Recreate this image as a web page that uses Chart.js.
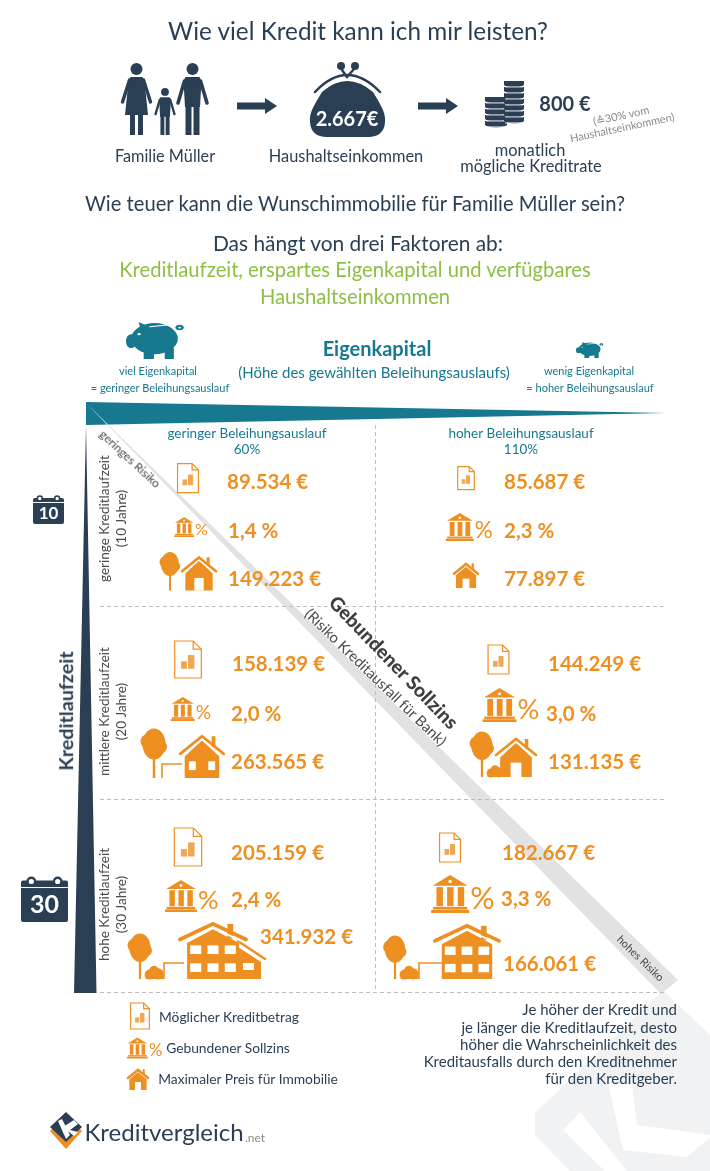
<!DOCTYPE html>
<html lang="de">
<head>
<meta charset="utf-8">
<title>Wie viel Kredit kann ich mir leisten?</title>
<script src="https://cdn.jsdelivr.net/npm/chart.js@4"></script>
<style>
  html, body { margin: 0; background: #fff; }
  #page { position: relative; width: 710px; height: 1171px; overflow: hidden; font-family: Lato, sans-serif; }
  #page canvas { position: absolute; left: 0; top: 0; }
  .txt { position: absolute; white-space: nowrap; line-height: 1; }
</style>
</head>
<body>
<div id="page"><canvas id="chart" width="710" height="1171"></canvas></div>
<script>
// Data
const ltvValues = [60, 110];
const ltvLabels = ['geringer Beleihungsauslauf', 'hoher Beleihungsauslauf'];
const yearValues = [10, 20, 30];
const laufzeitLabels = ['geringe Kreditlaufzeit', 'mittlere Kreditlaufzeit', 'hohe Kreditlaufzeit'];
const kreditLow = [89534, 158139, 205159];
const kreditHigh = [85687, 144249, 182667];
const zinsLow = [1.4, 2.0, 2.4];
const zinsHigh = [2.3, 3.0, 3.3];
const preisLow = [149223, 263565, 341932];
const preisHigh = [77897, 131135, 166061];

const navy = '#2a3f54';
const teal = '#17798f';
const orange = '#ee8f22';
const green = '#8dbf43';
const grey = '#4a4a4a';

// Offsets from each data point: [text dx, text dy, icon dx, icon dy, icon height]
const kreditLayout = [
  [[-20, -27.5, -59, -31.5, 29], [-17, -27.5, -55, -31.5, 23]],
  [[-15, -38.5, -59, -43, 37], [27, -38.5, -22.5, -43, 29]],
  [[-16, -42.5, -59, -48.5, 38], [-19, -42.5, -71, -48, 29]]
];
const zinsLayout = [
  [[-19, 21.5, -58.5, 17.5, 20], [-17, 21.5, -55, 17.5, 28]],
  [[-16, 11.5, -59, 6.5, 24], [25, 11.5, -14, 2.5, 34]],
  [[-16, 4.5, -59, 0.5, 32], [-20, 3.5, -62.5, -1.5, 38]]
];
const preisLayout = [
  [[-19, 69.5, -87, 81, 'a'], [-17, 69.5, -69, 78.5, 'b']],
  [[-16, 59.5, -107, 75.5, 'c'], [27, 59.5, -53, 74.5, 'd']],
  [[13, 41.5, -120, 83.5, 'e'], [-18, 68.5, -138, 83.5, 'f']]
];

// text, center x, center y, size, colour, extra
const pageText = [
  ['Wie viel Kredit kann ich mir leisten?', 358, 31, 24.3, navy],
  ['Familie Müller', 165, 156, 16.3, navy],
  ['Haushaltseinkommen', 346, 156, 16.4, navy],
  ['2.667€', 347, 118, 20, '#fff', { weight: 700 }],
  ['800 €', 565, 103, 20, navy, { weight: 700 }],
  ['(≙30% vom', 621, 115, 11, '#8a8a8a', { rotate: -12 }],
  ['Haushaltseinkommen)', 622, 127, 11, '#8a8a8a', { rotate: -12 }],
  ['monatlich', 530, 150, 16.4, navy],
  ['mögliche Kreditrate', 531, 166, 16.4, navy],
  ['Wie teuer kann die Wunschimmobilie für Familie Müller sein?', 355, 203, 20.2, navy],
  ['Das hängt von drei Faktoren ab:', 358, 243, 20.9, navy],
  ['Kreditlaufzeit, erspartes Eigenkapital und verfügbares', 355, 269, 20.2, green],
  ['Haushaltseinkommen', 355, 296, 20.2, green],
  ['Eigenkapital', 377, 348, 20, teal, { weight: 700 }],
  ['(Höhe des gewählten Beleihungsauslaufs)', 374, 372, 15, teal],
  ['viel Eigenkapital', 158, 370, 11, teal],
  ['= geringer Beleihungsauslauf', 160, 387, 11, teal],
  ['wenig Eigenkapital', 589, 370, 11, teal],
  ['= hoher Beleihungsauslauf', 590, 387, 11, teal],
  ['geringes Risiko', 130, 459, 12, grey, { rotate: 43 }],
  ['Gebundener Sollzins', 394, 662, 19.3, '#3f3f3f', { weight: 900, rotate: 46 }],
  ['(Risiko Kreditausfall für Bank)', 376, 677, 14.8, grey, { rotate: 44 }],
  ['hohes Risiko', 641, 958, 11, grey, { rotate: 44 }],
  ['Kreditlaufzeit', 66, 711, 19.7, navy, { weight: 700, rotate: -90 }],
  ['Möglicher Kreditbetrag', 229, 1017, 13.8, navy],
  ['Gebundener Sollzins', 228, 1048, 13.8, navy],
  ['Maximaler Preis für Immobilie', 248, 1079, 13.8, navy],
  ['Je höher der Kredit und', 677, 1009, 15, navy, { right: true }],
  ['je länger die Kreditlaufzeit, desto', 677, 1027, 15, navy, { right: true }],
  ['höher die Wahrscheinlichkeit des', 677, 1044, 15, navy, { right: true }],
  ['Kreditausfalls durch den Kreditnehmer', 677, 1061, 15, navy, { right: true }],
  ['für den Kreditgeber.', 677, 1078, 15, navy, { right: true }],
  ['Kreditvergleich', 164, 1132, 24, navy],
  ['.net', 255, 1138, 12, '#8a8a8a']
];

const page = document.getElementById('page');
pageText.forEach(([text, x, y, size, color, extra = {}]) => {
  const el = document.createElement('div');
  el.className = 'txt';
  el.textContent = text;
  el.style.left = x + 'px';
  el.style.top = y + 'px';
  el.style.fontSize = size + 'px';
  el.style.color = color;
  el.style.fontWeight = extra.weight || 400;
  const tx = extra.right ? '-100%' : '-50%';
  el.style.transform = `translate(${tx}, -50%) rotate(${extra.rotate || 0}deg)`;
  page.appendChild(el);
});

// Drawing helpers
function poly(c, pts, fill) {
  c.beginPath();
  pts.forEach((p, i) => i ? c.lineTo(p[0], p[1]) : c.moveTo(p[0], p[1]));
  c.closePath();
  c.fillStyle = fill;
  c.fill();
}

function line(c, pts, color, width) {
  c.beginPath();
  pts.forEach((p, i) => i ? c.lineTo(p[0], p[1]) : c.moveTo(p[0], p[1]));
  c.strokeStyle = color;
  c.lineWidth = width;
  c.lineCap = 'round';
  c.stroke();
}

function dot(c, x, y, r, fill) {
  c.beginPath();
  c.arc(x, y, r, 0, Math.PI * 2);
  c.fillStyle = fill;
  c.fill();
}

function docIcon(c, cx, cy, h) {
  const w = h * 0.72, x = cx - w / 2, y = cy - h / 2, f = h * 0.22;
  c.fillStyle = '#fff';
  c.strokeStyle = orange;
  c.lineWidth = 1.2;
  c.beginPath();
  c.moveTo(x, y);
  c.lineTo(x + w - f, y);
  c.lineTo(x + w, y + f);
  c.lineTo(x + w, y + h);
  c.lineTo(x, y + h);
  c.closePath();
  c.fill();
  c.stroke();
  c.beginPath();
  c.moveTo(x + w - f, y);
  c.lineTo(x + w - f, y + f);
  c.lineTo(x + w, y + f);
  c.stroke();
  c.fillStyle = '#efa655';
  c.fillRect(cx - w * 0.26, cy + h * 0.05, w * 0.22, h * 0.2);
  c.fillRect(cx, cy - h * 0.12, w * 0.24, h * 0.37);
}

function bankIcon(c, cx, cy, h) {
  const b = h * 1.0, x = cx - b * 0.72, top = cy - h / 2;
  const mid = x + b / 2;
  poly(c, [[mid, top], [x + b * 0.96, top + h * 0.28], [x + b * 0.04, top + h * 0.28]], orange);
  dot(c, mid, top + h * 0.17, h * 0.045, '#fff');
  for (let i = 0; i < 3; i++) {
    c.fillStyle = orange;
    c.fillRect(x + b * (0.14 + i * 0.28), top + h * 0.32, b * 0.17, h * 0.5);
  }
  c.fillRect(x + b * 0.05, top + h * 0.84, b * 0.9, h * 0.07);
  c.fillRect(x, top + h * 0.92, b, h * 0.08);
  c.font = `400 ${h * 0.8}px Lato`;
  c.textAlign = 'left';
  c.textBaseline = 'middle';
  c.fillText('%', x + b + 1, cy + h * 0.14);
}

function tree(c, cx, bottom, h) {
  const crown = bottom - h * 0.68;
  c.fillStyle = orange;
  c.fillRect(cx - h * 0.025, crown, h * 0.05, h * 0.68);
  c.beginPath();
  c.ellipse(cx, crown, h * 0.23, h * 0.31, 0, 0, Math.PI * 2);
  c.fill();
  dot(c, cx - h * 0.12, crown - h * 0.05, h * 0.15, orange);
  dot(c, cx + h * 0.13, crown + h * 0.06, h * 0.13, orange);
}

function bush(c, cx, bottom, w) {
  dot(c, cx - w * 0.22, bottom - w * 0.22, w * 0.25, orange);
  dot(c, cx + w * 0.2, bottom - w * 0.26, w * 0.28, orange);
  dot(c, cx, bottom - w * 0.42, w * 0.24, orange);
  c.fillStyle = orange;
  c.fillRect(cx - w * 0.42, bottom - w * 0.2, w * 0.9, w * 0.2);
}

function garage(c, x, bottom, w, h) {
  c.strokeStyle = orange;
  c.lineWidth = 1.6;
  c.lineCap = 'butt';
  c.beginPath();
  c.moveTo(x, bottom);
  c.lineTo(x, bottom - h);
  c.lineTo(x + w, bottom - h);
  c.stroke();
}

// rows = rows of windows, 0 gives a plain house with a door
function house(c, cx, bottom, w, h, rows, cols) {
  const bw = w * 0.72, roofY = bottom - h * (rows === 2 ? 0.68 : 0.55);
  const rw = Math.max(2, h * 0.05);
  c.fillStyle = orange;
  c.fillRect(cx + w * 0.2, bottom - h * 0.95, w * 0.08, h * 0.25);
  poly(c, [[cx, bottom - h * 0.86], [cx + bw / 2, roofY + h * 0.06], [cx + bw / 2, bottom], [cx - bw / 2, bottom], [cx - bw / 2, roofY + h * 0.06]], orange);
  poly(c, [[cx, bottom - h * 0.9], [cx + bw * 0.6, roofY + h * 0.03], [cx + bw * 0.6, roofY + h * 0.03 + 2], [cx, bottom - h * 0.9 + 2], [cx - bw * 0.6, roofY + h * 0.03 + 2], [cx - bw * 0.6, roofY + h * 0.03]], '#fff');
  line(c, [[cx - w / 2 + rw, roofY], [cx, bottom - h + rw], [cx + w / 2 - rw, roofY]], orange, rw * 1.3);
  c.fillStyle = '#fff';
  if (rows === 0) {
    c.fillRect(cx - bw * 0.17, bottom - h * 0.36, bw * 0.34, h * 0.36);
  } else if (rows === 1) {
    c.fillRect(cx - bw * 0.38, bottom - h * 0.38, bw * 0.2, h * 0.2);
    c.fillRect(cx + bw * 0.18, bottom - h * 0.38, bw * 0.2, h * 0.2);
  } else {
    for (let r = 0; r < 2; r++) {
      for (let i = 0; i < cols; i++) {
        const gx = bw / cols;
        c.fillRect(cx - bw / 2 + gx * (i + 0.18), bottom - h * (0.58 - r * 0.31), gx * 0.64, h * 0.15);
      }
    }
  }
}

// House groups, dx and bottom are measured from the point given
function preisIcon(c, kind, x, bottom) {
  if (kind === 'a') {
    tree(c, x + 10, bottom, 39);
    house(c, x + 39, bottom, 38, 35, 0);
  } else if (kind === 'b') {
    house(c, x + 14, bottom, 28, 26, 0);
  } else if (kind === 'c') {
    tree(c, x + 14, bottom, 50);
    garage(c, x + 22, bottom, 20, 14);
    house(c, x + 62, bottom, 48, 44, 1);
  } else if (kind === 'd') {
    tree(c, x + 14, bottom, 46);
    house(c, x + 48, bottom, 44, 40, 0);
    bush(c, x + 27, bottom, 18);
  } else if (kind === 'e') {
    tree(c, x + 13, bottom, 46);
    bush(c, x + 27, bottom, 20);
    garage(c, x + 37, bottom, 20, 16);
    poly(c, [[x + 111, bottom - 32], [x + 134, bottom - 17], [x + 134, bottom], [x + 111, bottom]], orange);
    line(c, [[x + 111, bottom - 38], [x + 138, bottom - 20]], orange, 2.5);
    house(c, x + 86, bottom, 72, 58, 2, 3);
    c.fillStyle = '#fff';
    c.fillRect(x + 116, bottom - 16, 11, 7);
  } else {
    tree(c, x + 12, bottom, 44);
    bush(c, x + 26, bottom, 20);
    garage(c, x + 36, bottom, 23, 16);
    house(c, x + 84, bottom, 70, 56, 2, 3);
  }
}

function person(c, cx, top, h, dress) {
  const s = h / 72;
  dot(c, cx, top + 6 * s, 6 * s, navy);
  c.fillStyle = navy;
  if (dress) {
    poly(c, [[cx - 6 * s, top + 14 * s], [cx + 6 * s, top + 14 * s], [cx + 8 * s, top + 18 * s], [cx + 11.5 * s, top + 52 * s], [cx - 11.5 * s, top + 52 * s], [cx - 8 * s, top + 18 * s]], navy);
    line(c, [[cx - 7 * s, top + 17 * s], [cx - 14 * s, top + 39 * s]], navy, 3.4 * s);
    line(c, [[cx + 7 * s, top + 17 * s], [cx + 14 * s, top + 39 * s]], navy, 3.4 * s);
    c.fillStyle = navy;
    c.fillRect(cx - 6.5 * s, top + 50 * s, 5 * s, 22 * s);
    c.fillRect(cx + 1.5 * s, top + 50 * s, 5 * s, 22 * s);
  } else {
    poly(c, [[cx - 7 * s, top + 14 * s], [cx + 7 * s, top + 14 * s], [cx + 9 * s, top + 18 * s], [cx + 7.5 * s, top + 44 * s], [cx - 7.5 * s, top + 44 * s], [cx - 9 * s, top + 18 * s]], navy);
    c.fillRect(cx - 7 * s, top + 42 * s, 6 * s, 30 * s);
    c.fillRect(cx + 1 * s, top + 42 * s, 6 * s, 30 * s);
    line(c, [[cx - 8 * s, top + 18 * s], [cx - 14.5 * s, top + 40 * s]], navy, 3.6 * s);
    line(c, [[cx + 8 * s, top + 18 * s], [cx + 14.5 * s, top + 40 * s]], navy, 3.6 * s);
  }
}

function arrow(c, x, y) {
  poly(c, [[x, y - 3.5], [x + 28, y - 3.5], [x + 28, y - 8], [x + 40, y], [x + 28, y + 8], [x + 28, y + 3.5], [x, y + 3.5]], navy);
}

function purse(c) {
  c.fillStyle = navy;
  c.beginPath();
  c.moveTo(322, 92);
  c.quadraticCurveTo(347, 70, 373, 92);
  c.bezierCurveTo(380, 104, 386, 112, 385, 122);
  c.quadraticCurveTo(384, 137, 368, 137);
  c.lineTo(327, 137);
  c.quadraticCurveTo(311, 137, 310, 122);
  c.bezierCurveTo(309, 112, 315, 104, 322, 92);
  c.fill();
  c.beginPath();
  c.moveTo(316, 93);
  c.quadraticCurveTo(347, 56, 379, 93);
  c.strokeStyle = '#fff';
  c.lineWidth = 4;
  c.stroke();
  c.beginPath();
  c.moveTo(315, 92);
  c.quadraticCurveTo(347, 58, 380, 92);
  c.strokeStyle = navy;
  c.lineWidth = 2.5;
  c.stroke();
  dot(c, 341, 66, 4, navy);
  dot(c, 355, 66, 4, navy);
  line(c, [[342, 70], [347, 77], [354, 69]], navy, 2.5);
}

function coins(c, x, bottom, w, n) {
  for (let i = 0; i < n; i++) {
    const y = bottom - 6 * i - 6;
    c.fillStyle = navy;
    c.beginPath();
    c.ellipse(x + w / 2, y + 2.5, w / 2, 3, 0, 0, Math.PI * 2);
    c.fill();
    c.fillRect(x, y - 1, w, 4);
    c.fillStyle = '#fff';
    c.fillRect(x + 1, y + 4.5, w - 2, 0.9);
  }
}

function piggy(c, x, y, w, h) {
  c.save();
  c.translate(x, y);
  c.scale(w / 100, h / 100);
  c.fillStyle = teal;
  c.beginPath();
  c.ellipse(50, 45, 41, 42, 0, 0, Math.PI * 2);
  c.fill();
  c.beginPath();
  c.ellipse(9, 52, 9, 19, 0, 0, Math.PI * 2);
  c.fill();
  c.fillRect(31, 70, 18, 30);
  c.fillRect(68, 70, 16, 30);
  poly(c, [[22, 0], [40, 12], [28, 32]], teal);
  c.strokeStyle = teal;
  c.lineWidth = 5;
  c.beginPath();
  c.arc(94, 15, 5, 0, Math.PI * 2);
  c.stroke();
  line(c, [[42, 13], [72, 8]], '#fff', 3);
  dot(c, 23, 33, 3, '#fff');
  c.restore();
}

function calendar(c, x, y, w, h, label, size) {
  c.fillStyle = navy;
  c.beginPath();
  c.roundRect(x, y + h * 0.1, w, h * 0.9, 2);
  c.fill();
  c.strokeStyle = navy;
  c.lineWidth = w * 0.05;
  [0.22, 0.78].forEach(p => {
    c.beginPath();
    c.arc(x + w * p, y + h * 0.12, w * 0.08, 0, Math.PI * 2);
    c.fillStyle = '#fff';
    c.fill();
    c.stroke();
  });
  c.fillStyle = '#fff';
  c.fillRect(x, y + h * 0.24, w, 1);
  c.font = `700 ${size}px Lato`;
  c.textAlign = 'center';
  c.textBaseline = 'middle';
  c.fillText(label, x + w / 2, y + h * 0.63);
}

function logo(c) {
  poly(c, [[50, 1131], [66, 1115], [82, 1131], [66, 1149]], orange);
  poly(c, [[50, 1127], [66, 1112], [82, 1127], [66, 1142]], navy);
  poly(c, [[58, 1121], [62, 1119], [70, 1135], [66, 1139]], '#fff');
  poly(c, [[63, 1127], [74, 1120], [78, 1124], [70, 1130], [78, 1132], [74, 1136]], '#fff');
}

// Page artwork under the chart
const artwork = {
  id: 'artwork',
  beforeDraw(chart) {
    const c = chart.ctx;
    c.save();
    poly(c, [[535, 1113], [663, 990], [710, 1035], [710, 1171], [570, 1171], [535, 1135]], '#f1f2f4');
    poly(c, [[563, 1130], [580, 1112], [627, 1171], [605, 1171]], '#fff');
    poly(c, [[608, 1083], [632, 1085], [637, 1125], [710, 1135], [710, 1138], [687, 1157], [623, 1150]], '#fff');
    poly(c, [[86, 425], [96.5, 993], [74, 993]], navy);
    poly(c, [[86, 402], [666, 413], [86, 425]], teal);
    poly(c, [[86, 403], [678, 980], [661, 994]], '#e2e2e2');

    person(c, 136.5, 63, 72, true);
    person(c, 165, 88, 47, false);
    person(c, 192.5, 63, 72, false);
    arrow(c, 237, 106);
    arrow(c, 418, 106);
    purse(c);
    coins(c, 485, 128, 22, 5);
    coins(c, 504, 124, 20, 7);
    piggy(c, 126, 322, 57, 37);
    piggy(c, 576, 342, 27, 16);
    calendar(c, 33, 495, 31, 29, '10', 17);
    calendar(c, 21, 876, 47, 46, '30', 25);

    docIcon(c, 140, 1016, 26);
    bankIcon(c, 142, 1048, 21);
    house(c, 138, 1090, 24, 22, 0);
    logo(c);
    c.restore();
  }
};

// Values, icons and row/column captions placed from the scale positions
const cellMarks = {
  id: 'cellMarks',
  afterDatasetsDraw(chart) {
    const c = chart.ctx;
    const layouts = [kreditLayout, zinsLayout, preisLayout];
    c.save();
    chart.data.datasets.forEach((ds, i) => {
      chart.getDatasetMeta(i).data.forEach((pt, j) => {
        const row = yearValues.indexOf(ds.data[j].y);
        const col = ltvValues.indexOf(ds.data[j].x);
        const l = layouts[ds.layout][row][col];
        if (ds.layout === 0) docIcon(c, pt.x + l[2], pt.y + l[3], l[4]);
        if (ds.layout === 1) bankIcon(c, pt.x + l[2], pt.y + l[3], l[4]);
        if (ds.layout === 2) preisIcon(c, l[4], pt.x + l[2], pt.y + l[3]);
        c.fillStyle = orange;
        c.font = '700 20.5px Lato';
        c.textAlign = 'left';
        c.textBaseline = 'middle';
        const v = ds.data[j].v;
        const text = ds.layout === 1 ? v.toFixed(1).replace('.', ',') + ' %' : v.toLocaleString('de-DE') + ' €';
        c.fillText(text, pt.x + l[0], pt.y + l[1]);
      });
    });

    const xs = chart.scales.x, ys = chart.scales.y;
    c.fillStyle = teal;
    c.textAlign = 'center';
    c.font = '13.5px Lato';
    ltvValues.forEach((v, i) => {
      const x = xs.getPixelForValue(v);
      c.fillText(ltvLabels[i], x, 434);
      c.fillText(v + '%', x, 450);
    });
    c.fillStyle = grey;
    yearValues.forEach((v, i) => {
      const y = ys.getPixelForValue(v) + 9;
      c.save();
      c.translate(105, y);
      c.rotate(-Math.PI / 2);
      c.font = '13.5px Lato';
      c.fillText(laufzeitLabels[i], 0, 0);
      c.translate(0, 17);
      c.fillText('(' + v + ' Jahre)', 0, 0);
      c.restore();
    });
    c.restore();
  }
};

function cellPoints(low, high) {
  const pts = [];
  yearValues.forEach((y, r) => {
    pts.push({ x: ltvValues[0], y: y, v: low[r] });
    pts.push({ x: ltvValues[1], y: y, v: high[r] });
  });
  return pts;
}

const chart = new Chart(document.getElementById('chart'), {
  type: 'scatter',
  data: {
    datasets: [
      { label: 'Möglicher Kreditbetrag', layout: 0, data: cellPoints(kreditLow, kreditHigh), pointRadius: 0 },
      { label: 'Gebundener Sollzins', layout: 1, data: cellPoints(zinsLow, zinsHigh), pointRadius: 0 },
      { label: 'Maximaler Preis für Immobilie', layout: 2, data: cellPoints(preisLow, preisHigh), pointRadius: 0 }
    ]
  },
  options: {
    responsive: false,
    animation: false,
    devicePixelRatio: 1,
    layout: { padding: { left: 100, right: 44, top: 425, bottom: 179 } },
    plugins: { legend: { display: false }, tooltip: { enabled: false } },
    scales: {
      x: {
        type: 'linear',
        min: 33.175,
        max: 136.46,
        afterBuildTicks: axis => { axis.ticks = [{ value: 83.54 }]; },
        ticks: { display: false },
        border: { display: false, dash: [4, 3] },
        grid: { color: '#bcbcbc', drawTicks: false }
      },
      y: {
        type: 'linear',
        reverse: true,
        min: 5.62,
        max: 35,
        afterBuildTicks: axis => { axis.ticks = [{ value: 15 }, { value: 25 }, { value: 35 }]; },
        ticks: { display: false },
        border: { display: false, dash: [4, 3] },
        grid: { color: '#bcbcbc', drawTicks: false }
      }
    }
  },
  plugins: [artwork, cellMarks]
});
</script>
</body>
</html>
